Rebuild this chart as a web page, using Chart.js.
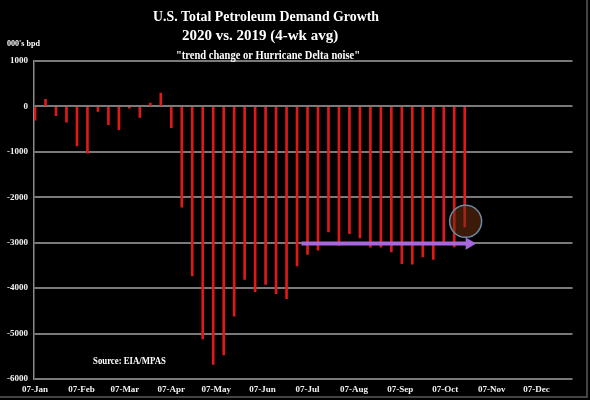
<!DOCTYPE html>
<html lang="en">
<head>
<meta charset="UTF-8">
<title>U.S. Total Petroleum Demand Growth</title>
<script src="https://cdn.jsdelivr.net/npm/chart.js@4/dist/chart.umd.min.js"></script>
<style>
  html, body { margin: 0; padding: 0; background: #000; }
  #wrap { width: 590px; height: 400px; }
</style>
</head>
<body>
<div id="wrap"><canvas id="grafica" width="590" height="400"></canvas></div>
<script>
// weekly points, days counted from 07-Jan
const weekDay = [0, 7, 14, 21, 28, 35, 42, 49, 56, 63, 70, 77, 84, 91,
  98, 105, 112, 119, 126, 133, 140, 147, 154, 161, 168, 175, 182, 189,
  196, 203, 210, 217, 224, 231, 238, 245, 252, 259, 266, 273, 280, 287];

// demand growth 2020 vs 2019, 000's bpd
const growth = [-300, 155, -205, -345, -870, -1030, -110, -400, -510, -40, -240, 75, 295, -470,
  -2220, -3730, -5120, -5680, -5470, -4615, -3810, -4080, -3920, -4120, -4230, -3510, -3260, -3165,
  -2760, -3055, -2800, -2895, -3100, -3100, -3200, -3460, -3470, -3310, -3370, -3020, -3090, -2650];

const monthDay = [0, 31, 60, 91, 121, 152, 182, 213, 244, 274, 305, 335];
const monthLabels = ['07-Jan', '07-Feb', '07-Mar', '07-Apr', '07-May', '07-Jun',
  '07-Jul', '07-Aug', '07-Sep', '07-Oct', '07-Nov', '07-Dec'];

const yTicks = [1000, 0, -1000, -2000, -3000, -4000, -5000, -6000];

// annotations: trend arrow and the circled last week
const arrowX = [178, 290];
const arrowY = [-3020, -3020];
const circleX = [287.6];
const circleY = [-2530];

const titleLines = ['U.S. Total Petroleum Demand Growth', '2020 vs. 2019 (4-wk avg)'];
const subTitle = '"trend change or Hurricane Delta noise"';
const unitLabel = "000's bpd";
const sourceLabel = 'Source: EIA/MPAS';

const serif = '"Liberation Serif", "Times New Roman", serif';

// textos y marco
const textos = {
  id: 'textos',
  afterDraw(chart) {
    const ctx = chart.ctx;
    ctx.save();
    // marco
    ctx.strokeStyle = '#5a5a5a';
    ctx.lineWidth = 1.5;
    ctx.beginPath();
    ctx.moveTo(587, 0);
    ctx.lineTo(587, 397);
    ctx.lineTo(0, 397);
    ctx.stroke();

    ctx.fillStyle = '#ffffff';
    ctx.textAlign = 'center';
    ctx.textBaseline = 'alphabetic';
    ctx.font = 'bold 15px ' + serif;
    ctx.fillText(titleLines[0], 266, 21, 226);
    ctx.fillText(titleLines[1], 260, 40, 158);
    ctx.font = 'bold 12px ' + serif;
    ctx.fillText(subTitle, 268, 59, 184);

    ctx.textAlign = 'left';
    ctx.font = 'bold 9px ' + serif;
    ctx.fillText(unitLabel, 7, 46, 33);
    ctx.font = 'bold 10px ' + serif;
    ctx.fillText(sourceLabel, 93, 364, 73);
    ctx.restore();
  }
};

const ctx = document.getElementById('grafica').getContext('2d');
const chart = new Chart(ctx, {
  type: 'bar',
  data: {
    datasets: [{
      type: 'line',
      data: arrowX.map((x, i) => ({ x: x, y: arrowY[i] })),
      borderColor: '#a868dc',
      backgroundColor: '#a868dc',
      borderWidth: 4,
      pointStyle: 'triangle',
      rotation: 90,
      pointRadius: [0, 7],
      pointBorderWidth: 0,
      order: 1
    }, {
      type: 'bubble',
      data: circleX.map((x, i) => ({ x: x, y: circleY[i] })),
      radius: 16,
      backgroundColor: 'rgba(110, 48, 18, 0.55)',
      borderColor: '#6a8aa6',
      borderWidth: 1.5,
      order: 2
    }, {
      type: 'bar',
      data: weekDay.map((d, i) => ({ x: d, y: growth[i] })),
      backgroundColor: '#e01818',
      borderWidth: 0,
      barThickness: 2,
      order: 3
    }]
  },
  options: {
    responsive: false,
    animation: false,
    events: [],
    layout: { padding: { top: 61, right: 15, bottom: 0, left: 0 } },
    plugins: {
      legend: { display: false },
      tooltip: { enabled: false },
      title: { display: false }
    },
    scales: {
      x: {
        type: 'linear',
        min: -0.7,
        max: 359,
        offset: false,
        grid: { display: false, drawTicks: false },
        border: { display: false },
        afterBuildTicks: s => { s.ticks = monthDay.map(v => ({ value: v })); },
        afterFit: s => { s.height = 21; },
        ticks: {
          autoSkip: false,
          maxRotation: 0,
          padding: 5,
          color: '#f2f2f2',
          font: { family: serif, size: 9, weight: 'bold' },
          callback: (v, i) => monthLabels[i]
        }
      },
      y: {
        min: -6000,
        max: 1000,
        afterBuildTicks: s => { s.ticks = yTicks.map(v => ({ value: v })); },
        afterFit: s => { s.width = 34; },
        grid: { color: '#7a7a7a', lineWidth: 2, drawTicks: false },
        border: { display: true, color: '#8a8a8a', width: 1.5 },
        ticks: {
          padding: 6,
          color: '#f2f2f2',
          font: { family: serif, size: 9, weight: 'bold' },
          callback: v => String(v)
        }
      }
    }
  },
  plugins: [textos]
});
</script>
</body>
</html>
